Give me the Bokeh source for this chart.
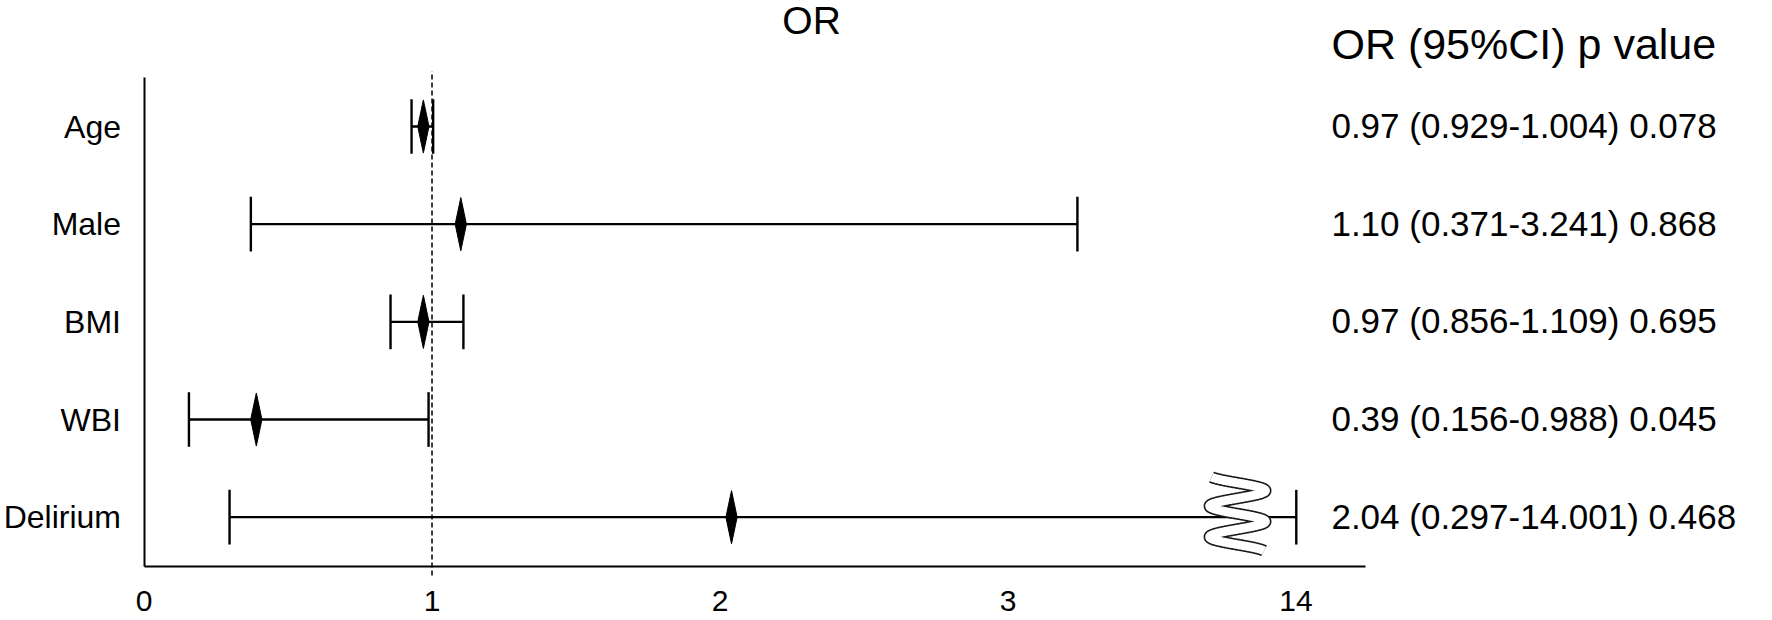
import numpy as np
from bokeh.plotting import figure
from bokeh.models import Range1d, FixedTicker
from bokeh.core.properties import value
from bokeh.embed import file_html
from bokeh.resources import INLINE

# ---------------- data ----------------
variables = ["Age", "Male", "BMI", "WBI", "Delirium"]
odds_ratio = [0.97, 1.10, 0.97, 0.39, 2.04]
ci_lower = [0.929, 0.371, 0.856, 0.156, 0.297]
ci_upper = [1.004, 3.241, 1.109, 0.988, 14.001]
or_text = ["0.97", "1.10", "0.97", "0.39", "2.04"]
lo_text = ["0.929", "0.371", "0.856", "0.156", "0.297"]
hi_text = ["1.004", "3.241", "1.109", "0.988", "14.001"]
p_text = ["0.078", "0.868", "0.695", "0.045", "0.468"]
x_ticks = [0, 1, 2, 3, 14]
x_tick_labels = ["0", "1", "2", "3", "14"]
reference_or = 1
title_text = "OR"
header_text = "OR (95%CI) p value"

# ---------------- broken axis: 0..3.8 // 13.8..14.25 ----------------
LOW_MAX = 3.8
HIGH_MIN = 13.8


def axis_pos(v):
    d = v if v <= LOW_MAX else LOW_MAX + (v - HIGH_MIN)
    d = round(d, 6)
    return int(d) if float(d).is_integer() else d


rows = list(range(len(variables), 0, -1))  # Age on top

FONT = "Liberation Sans"

p = figure(width=1772, height=620,
           x_range=Range1d(-0.4983, 5.6545), y_range=Range1d(-0.0576, 6.290),
           output_backend="svg", toolbar_location=None, min_border=0)
p.outline_line_color = None
p.grid.visible = False
p.background_fill_color = "white"
p.border_fill_color = "white"

# x axis
xa = p.xaxis[0]
xa.fixed_location = 0.5
xa.bounds = (0, axis_pos(14.24))
tick_pos = [axis_pos(t) for t in x_ticks]
xa.ticker = FixedTicker(ticks=tick_pos)
xa.major_label_overrides = {tp: lab for tp, lab in zip(tick_pos, x_tick_labels)}
xa.major_tick_line_color = None
xa.minor_tick_line_color = None
xa.axis_line_width = 2
xa.axis_line_color = "black"
xa.major_label_text_font = FONT
xa.major_label_text_font_size = "30px"
xa.major_label_text_color = "black"
xa.major_label_standoff = 19

# y axis
ya = p.yaxis[0]
ya.fixed_location = 0
ya.bounds = (0.5, 5.5)
ya.ticker = FixedTicker(ticks=rows)
ya.major_label_overrides = {r: v for r, v in zip(rows, variables)}
ya.major_tick_line_color = None
ya.minor_tick_line_color = None
ya.axis_line_width = 2
ya.axis_line_color = "black"
ya.major_label_text_font = FONT
ya.major_label_text_font_size = "32px"
ya.major_label_text_color = "black"
ya.major_label_standoff = 17

# reference line at OR = 1
p.segment(x0=[axis_pos(reference_or)], y0=[0.403], x1=[axis_pos(reference_or)], y1=[5.566],
          line_color="black", line_width=1.5, line_dash="5 3")

# confidence intervals
d_lo = [axis_pos(v) for v in ci_lower]
d_hi = [axis_pos(v) for v in ci_upper]
d_or = [axis_pos(v) for v in odds_ratio]
cap = 0.28
p.segment(x0=d_lo, y0=rows, x1=d_hi, y1=rows, line_color="black", line_width=2.3)
p.segment(x0=d_lo, y0=[r - cap for r in rows], x1=d_lo, y1=[r + cap for r in rows],
          line_color="black", line_width=2.4)
p.segment(x0=d_hi, y0=[r - cap for r in rows], x1=d_hi, y1=[r + cap for r in rows],
          line_color="black", line_width=2.4)

# diamonds for point estimates
dx, dh = 0.0195, 0.272
p.patches(xs=[[o - dx, o, o + dx, o] for o in d_or],
          ys=[[r, r + dh, r, r - dh] for r in rows],
          fill_color="black", line_color="black", line_width=1)

# axis-break symbol (outlined wavy ribbon) on the Delirium row
bcx, amp, y_top, h = 3.797, 0.097, 1.43, 0.158
s = np.linspace(0.12, 4.9, 400)
bx = bcx - amp * np.cos(np.pi * s)
by = y_top - s * h
p.line(bx, by, line_color="#1a1a1a", line_width=12, line_join="round", line_cap="butt")
p.line(bx, by, line_color="white", line_width=8.8, line_join="round", line_cap="butt")

# right-hand table
TX = 4.123
row_labels = [f"{o} ({l}-{hh}) {pv}" for o, l, hh, pv in zip(or_text, lo_text, hi_text, p_text)]
p.text(x=[TX] * len(rows), y=rows, text=row_labels, text_font=value(FONT),
       text_font_size="35px", text_baseline="middle", text_align="left",
       text_color="black", y_offset=-1)
p.text(x=[TX], y=[5.845], text=[header_text], text_font=value(FONT),
       text_font_size="43px", text_baseline="middle", text_align="left", text_color="black")
p.text(x=[2.318], y=[6.085], text=[title_text], text_font=value(FONT),
       text_font_size="39px", text_baseline="middle", text_align="center", text_color="black")

open("out.html", "w").write(file_html(p, INLINE))
